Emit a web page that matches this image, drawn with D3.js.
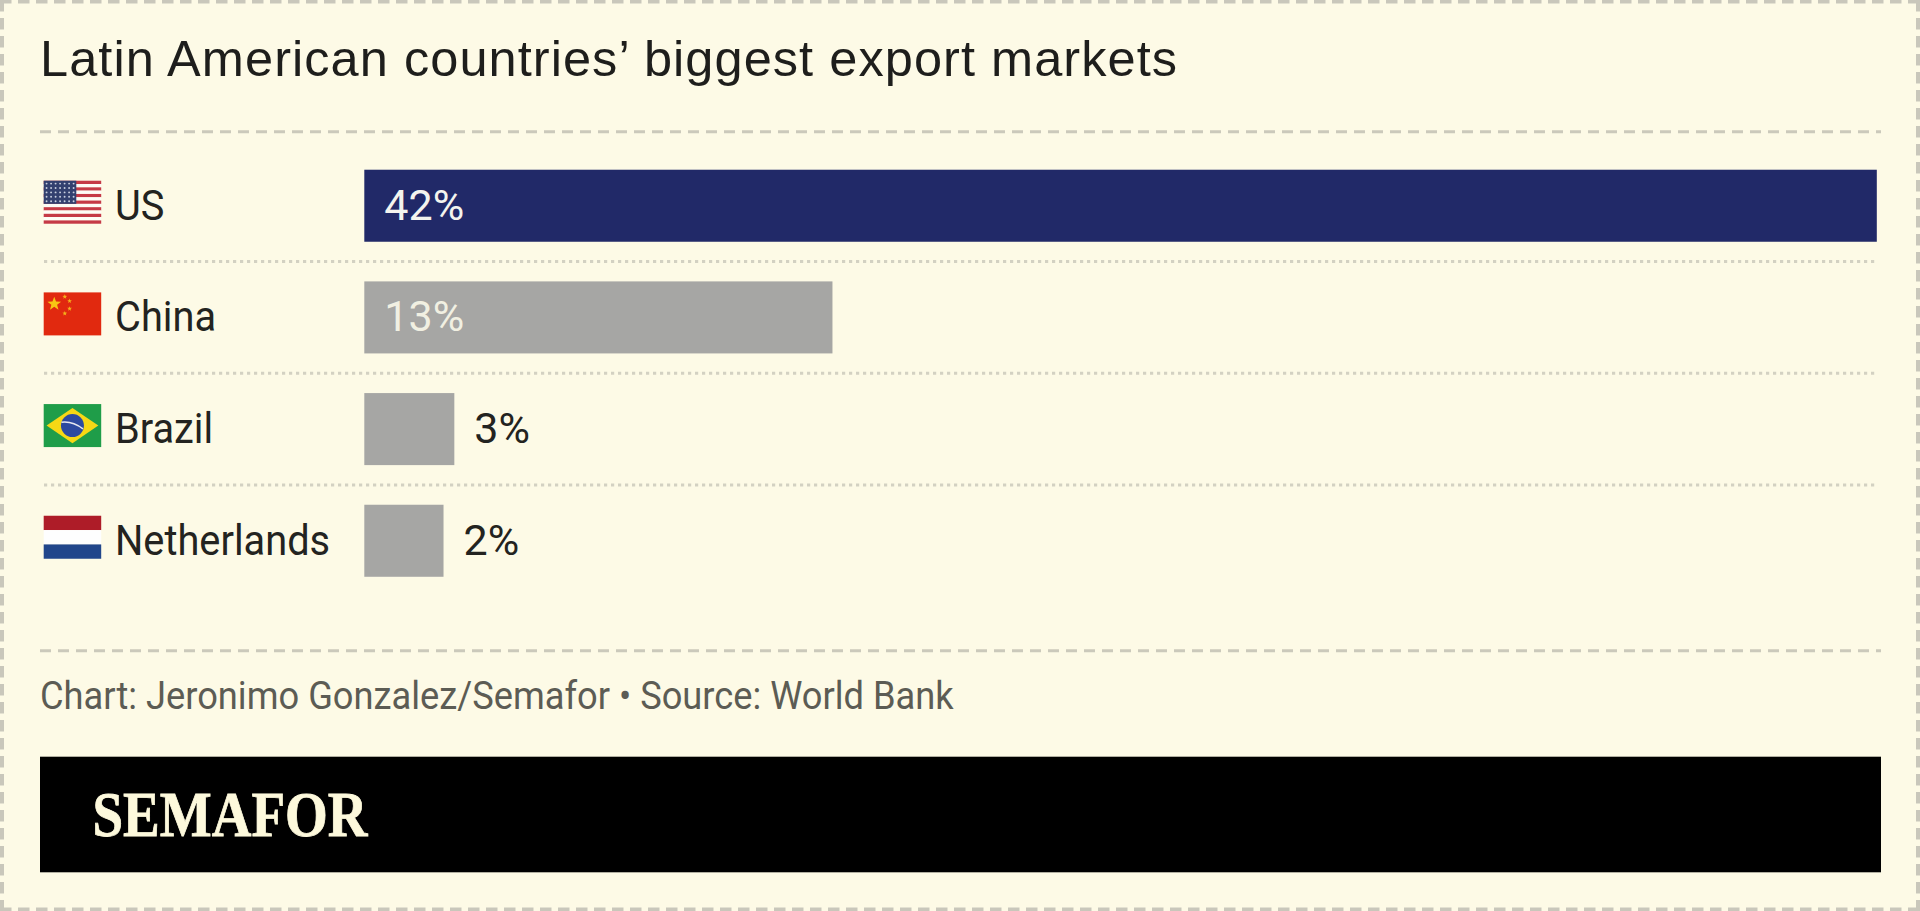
<!DOCTYPE html>
<html>
<head>
<meta charset="utf-8">
<script src="https://cdn.jsdelivr.net/npm/d3@7"></script>
<style>
    html, body { margin: 0; padding: 0; background: #fdfae6; overflow: hidden; }
    svg { display: block; }
</style>
</head>
<body>
<div id="chart"></div>
<script>
// values, labels are rounded in the original
const countries = ["US", "China", "Brazil", "Netherlands"];
const shares = [42, 13, 2.5, 2.2];
const shareLabels = ["42%", "13%", "3%", "2%"];
const barColors = ["#212968", "#a6a6a4", "#a6a6a4", "#a6a6a4"];
const flagIds = ["us", "cn", "br", "nl"];

const titleText = "Latin American countries’ biggest export markets";
const footerText = "Chart: Jeronimo Gonzalez/Semafor • Source: World Bank";
const logoText = "SEMAFOR";

const width = 1920;
const height = 911;
const bg = "#fdfae6";
const labelFont = "Roboto, sans-serif";

const rows = countries.map((name, i) => ({
    name: name,
    share: shares[i],
    label: shareLabels[i],
    color: barColors[i],
    flag: flagIds[i]
}));

const svg = d3.select("#chart")
    .append("svg")
    .attr("width", width)
    .attr("height", height);

svg.append("rect")
    .attr("width", width)
    .attr("height", height)
    .attr("fill", bg);

// dashed frame round the whole card
const frame = svg.append("g")
    .attr("fill", "none")
    .attr("stroke", "#c9c7bb")
    .attr("stroke-width", 4)
    .attr("stroke-dasharray", "11.5 6.5");
frame.append("line").attr("x1", 0).attr("x2", width).attr("y1", 1.5).attr("y2", 1.5);
frame.append("line").attr("x1", 0).attr("x2", width).attr("y1", height - 1.5).attr("y2", height - 1.5);
frame.append("line").attr("x1", 2).attr("x2", 2).attr("y1", 0).attr("y2", height);
frame.append("line").attr("x1", width - 2).attr("x2", width - 2).attr("y1", 0).attr("y2", height);

// Title
svg.append("text")
    .attr("x", 40)
    .attr("y", 76)
    .attr("font-family", "'Liberation Sans', Arial, sans-serif")
    .attr("font-size", 50.5)
    .attr("letter-spacing", 1.06)
    .attr("fill", "#1e1e1c")
    .text(titleText);

// dashed rules above and below the chart
[131.7, 650.7].forEach((y) => {
    svg.append("line")
        .attr("x1", 40)
        .attr("x2", 1881)
        .attr("y1", y)
        .attr("y2", y)
        .attr("stroke", "#cbc9bb")
        .attr("stroke-width", 3)
        .attr("stroke-dasharray", "11 7");
});

// Create scales
const xScale = d3.scaleLinear()
    .domain([0, d3.max(shares)])
    .range([364.3, 1876.8]);

const yScale = d3.scaleBand()
    .domain(countries)
    .range([149.9, 596.6])
    .paddingInner(0.355)
    .paddingOuter(0.1775);

const step = yScale.step();
const textDrop = yScale.bandwidth() / 2 + 13.8;

// dotted separators between rows
svg.selectAll(".sep")
    .data(countries.slice(1))
    .enter()
    .append("line")
    .attr("class", "sep")
    .attr("x1", 44)
    .attr("x2", 1877)
    .attr("y1", d => yScale(d) - (step - yScale.bandwidth()) / 2)
    .attr("y2", d => yScale(d) - (step - yScale.bandwidth()) / 2)
    .attr("stroke", "#d3d1c2")
    .attr("stroke-width", 3)
    .attr("stroke-dasharray", "3.2 3.8");

// Draw the bars
svg.selectAll(".bar")
    .data(rows)
    .enter()
    .append("rect")
    .attr("class", "bar")
    .attr("x", xScale(0))
    .attr("y", d => yScale(d.name))
    .attr("width", d => xScale(d.share) - xScale(0))
    .attr("height", yScale.bandwidth())
    .attr("fill", d => d.color);

// country names, Roboto squeezed a little to get the condensed look
svg.selectAll(".name")
    .data(rows)
    .enter()
    .append("text")
    .attr("class", "name")
    .attr("transform", d => `translate(115,${yScale(d.name) + textDrop}) scale(0.925,1)`)
    .attr("font-family", labelFont)
    .attr("font-size", 43)
    .attr("fill", "#232320")
    .text(d => d.name);

// value labels go inside the long bars and outside the short ones
svg.selectAll(".value")
    .data(rows)
    .enter()
    .append("text")
    .attr("class", "value")
    .attr("x", d => d.share > 10 ? xScale(0) + 20 : xScale(d.share) + 20)
    .attr("y", d => yScale(d.name) + textDrop)
    .attr("font-family", labelFont)
    .attr("font-size", 43)
    .attr("fill", d => d.share > 10 ? (d.name === "US" ? "#f4f4ee" : "#f1f0e2") : "#232320")
    .text(d => d.label);

// flags, drawn in a 60x45 box and scaled down to size
const flagW = 57.5;
const flagH = 43;
const flags = svg.selectAll(".flag")
    .data(rows)
    .enter()
    .append("g")
    .attr("class", "flag")
    .attr("transform", d => `translate(43.7,${yScale(d.name) + 11}) scale(${flagW / 60},${flagH / 45})`);

function stripes(g, colors) {
    const h = 45 / colors.length;
    colors.forEach((c, i) => {
        g.append("rect").attr("y", i * h).attr("width", 60).attr("height", h).attr("fill", c);
    });
}

function star(g, cx, cy, r, fill) {
    const pts = d3.range(10).map((i) => {
        const a = -Math.PI / 2 + i * Math.PI / 5;
        const rr = i % 2 ? r * 0.42 : r;
        return [cx + rr * Math.cos(a), cy + rr * Math.sin(a)];
    });
    g.append("polygon").attr("points", pts.join(" ")).attr("fill", fill);
}

flags.each(function (d) {
    const g = d3.select(this);
    if (d.flag === "us") {
        stripes(g, d3.range(13).map(i => i % 2 ? "#fdfcf6" : "#c53a46"));
        g.append("rect").attr("width", 34).attr("height", 24.2).attr("fill", "#33406f");
        d3.range(5).forEach((r) => {
            d3.range(7).forEach((c) => {
                g.append("circle")
                    .attr("cx", 3 + c * 4.7)
                    .attr("cy", 3 + r * 4.6)
                    .attr("r", 1)
                    .attr("fill", "#c9cfe0");
            });
        });
    } else if (d.flag === "cn") {
        g.append("rect").attr("width", 60).attr("height", 45).attr("fill", "#e1290f");
        star(g, 11, 12, 7.5, "#f8c513");
        [[22, 4.5], [27, 9], [27, 17], [22, 22]].forEach((p) => star(g, p[0], p[1], 2.6, "#f4b21b"));
    } else if (d.flag === "br") {
        g.append("rect").attr("width", 60).attr("height", 45).attr("fill", "#1f9d49");
        g.append("polygon").attr("points", "30,4 57,22.5 30,41 3,22.5").attr("fill", "#f6d815");
        g.append("circle").attr("cx", 30).attr("cy", 22.5).attr("r", 12).attr("fill", "#2c4aa0");
        g.append("path").attr("d", "M18.5,19 Q30,17.5 41,26").attr("fill", "none").attr("stroke", "#e6e8f0").attr("stroke-width", 1.6);
    } else {
        stripes(g, ["#ae1c28", "#fefefe", "#21468b"]);
    }
});

// Source line
svg.append("text")
    .attr("transform", "translate(40,709.3) scale(0.954,1)")
    .attr("font-family", labelFont)
    .attr("font-size", 38)
    .attr("fill", "#5c5c54")
    .text(footerText);

// black logo band
svg.append("rect")
    .attr("x", 40)
    .attr("y", 756.7)
    .attr("width", 1841)
    .attr("height", 115.6)
    .attr("fill", "#000");

svg.append("text")
    .attr("x", 92.5)
    .attr("y", 836)
    .attr("font-family", "'Liberation Serif', serif")
    .attr("font-weight", "bold")
    .attr("font-size", 64)
    .attr("textLength", 275)
    .attr("lengthAdjust", "spacingAndGlyphs")
    .attr("fill", "#fdf9dc")
    .attr("stroke", "#fdf9dc")
    .attr("stroke-width", 0.8)
    .text(logoText);
</script>
</body>
</html>
